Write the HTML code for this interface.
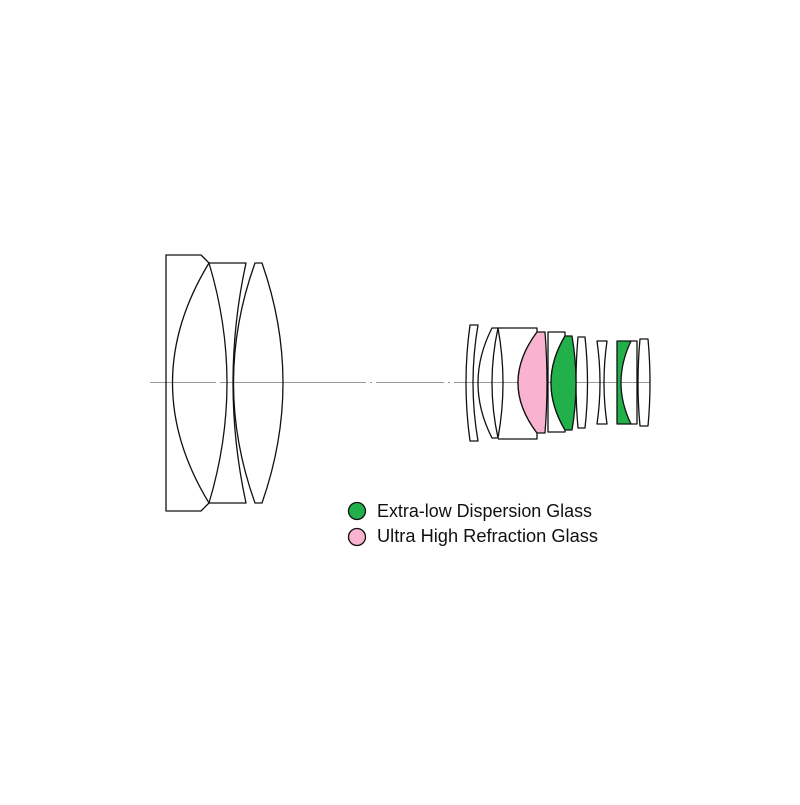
<!DOCTYPE html>
<html><head><meta charset="utf-8"><style>html,body{margin:0;padding:0;background:#fff}</style></head>
<body>
<svg width="800" height="800" viewBox="0 0 800 800" xmlns="http://www.w3.org/2000/svg">
<rect width="800" height="800" fill="#fff"/>
<g stroke="#999" stroke-width="1">
<line x1="150" y1="382.5" x2="216" y2="382.5"/>
<line x1="220" y1="382.5" x2="366" y2="382.5"/>
<line x1="370" y1="382.5" x2="372" y2="382.5"/>
<line x1="376" y1="382.5" x2="444" y2="382.5"/>
<line x1="448" y1="382.5" x2="450" y2="382.5"/>
<line x1="454" y1="382.5" x2="650" y2="382.5"/>
</g>
<g fill="none" stroke="#111" stroke-width="1.3" stroke-linejoin="round">
<path d="M209,263 L201,255 L166,255 L166,511 L201,511 L209,503"/>
<path d="M209,263 Q136,383 209,503"/>
<path d="M209,263 Q245,383 209,503"/>
<path d="M209,263 L246,263 Q220,383 246,503 L209,503"/>
<path d="M255,263 L262,263 Q304,383 262,503 L255,503 Q212,383 255,263 Z"/>
<path d="M470,325 L478,325 Q468,383 478,441 L470,441 Q462,383 470,325 Z"/>
<path d="M492,328 L498,328 Q486,383 498,438 L492,438 Q464,383 492,328 Z"/>
<path d="M498,328 Q508,383 498,438"/>
<path d="M498,328 L537,328 L537,332 Q499,383 537,433 L537,439 L498,439"/>
<path d="M548,332 L565,332 L565,336 Q537,383 565,430 L565,432 L548,432 Z"/>
<path d="M578,337 L585,337 Q590,383 585,428 L578,428 Q574,383 578,337 Z"/>
<path d="M597,341 L607,341 Q601,383 607,424 L597,424 Q603,383 597,341 Z"/>
<path d="M631,341 L637,341 L637,424 L631,424"/>
<path d="M640,339 L648,339 Q652,383 648,426 L640,426 Q636,383 640,339 Z"/>
</g>
<g stroke="#111" stroke-width="1.3" stroke-linejoin="round">
<path d="M537,332 L545,332 Q549,383 545,433 L537,433 Q499,383 537,332 Z" fill="#f9b3d1"/>
<path d="M565,336 L572,336 Q580,383 572,430 L565,430 Q537,383 565,336 Z" fill="#22b04b"/>
<path d="M617,341 L631,341 Q611,383 631,424 L617,424 Z" fill="#22b04b"/>
</g>
<circle cx="357" cy="511" r="8.5" fill="#22b04b" stroke="#111" stroke-width="1.3"/>
<circle cx="357" cy="537" r="8.5" fill="#f9b3d1" stroke="#111" stroke-width="1.3"/>
<g font-family="'Liberation Sans', sans-serif" font-size="18" fill="#111">
<text x="377" y="517" textLength="215" lengthAdjust="spacingAndGlyphs">Extra-low Dispersion Glass</text>
<text x="377" y="542" textLength="221" lengthAdjust="spacingAndGlyphs">Ultra High Refraction Glass</text>
</g>
</svg>
</body></html>
